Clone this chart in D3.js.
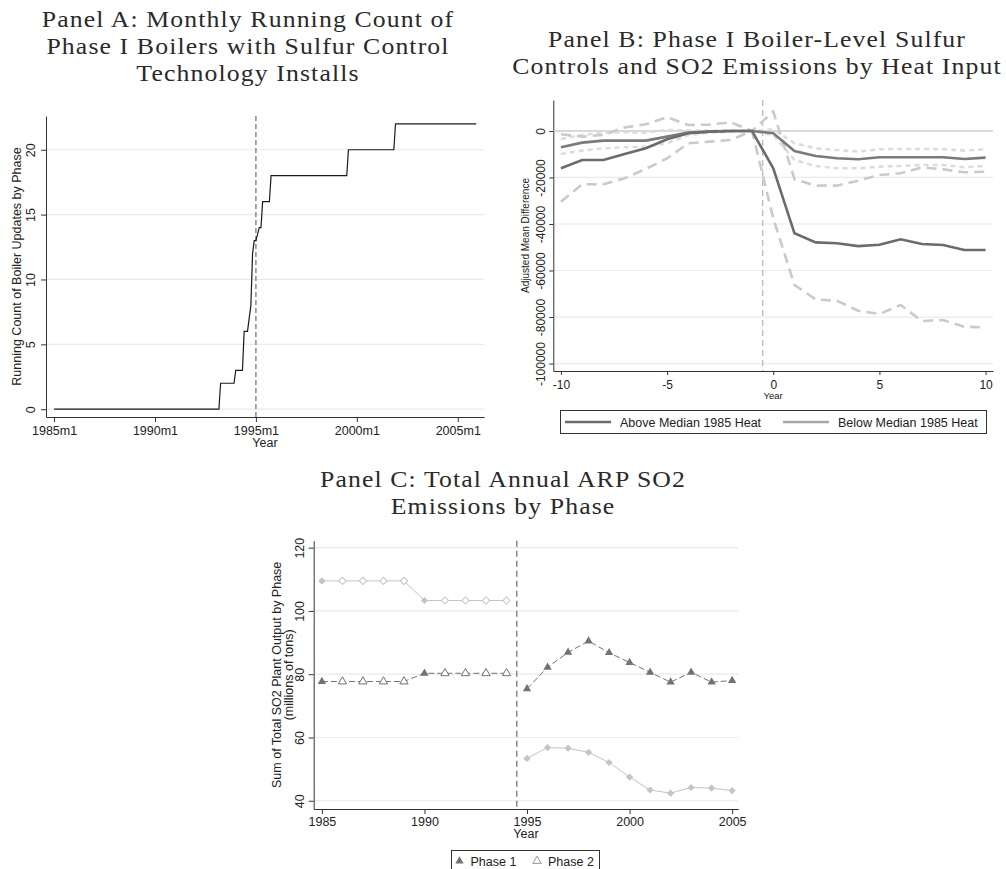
<!DOCTYPE html>
<html>
<head>
<meta charset="utf-8">
<script src="https://cdn.jsdelivr.net/npm/d3@7"></script>
<style>
  body { margin: 0; background: #fff; }
  svg text { font-family: "Liberation Sans", Arial, sans-serif; fill: #222; }
  svg .title { font-family: "Liberation Serif", "Times New Roman", serif; fill: #2a2a2a; }
</style>
</head>
<body>
<script>
// ---- Panel A: running count of boilers (change points, Stata monthly dates)
const boilerMonths = ['1985m1','1993m3','1993m4','1993m12','1994m1','1994m5','1994m6','1994m8','1994m10','1994m11','1994m12','1995m1','1995m3','1995m4','1995m5','1995m9','1995m10','1999m7','1999m8','2001m11','2001m12','2005m12']
const boilerCounts = [0, 0, 2, 2, 3, 3, 6, 6, 8, 12, 13, 13, 14, 14, 16, 16, 18, 18, 20, 20, 22, 22]
const monthTicks = ['1985m1','1990m1','1995m1','2000m1','2005m1']
const countTicks = [0, 5, 10, 15, 20]

// ---- Panel B: event study, years relative to install
const eventYears = [-10,-9,-8,-7,-6,-5,-4,-3,-2,-1,0,1,2,3,4,5,6,7,8,9,10]
const aboveMean = [-16060,-12480,-12480,-9900,-7460,-3590,-1000,-300,0,0,-16060,-44000,-47900,-48300,-49500,-48900,-46600,-48600,-49000,-51200,-51200]
const aboveHi = [-1430,-2440,-1720,1500,2870,5880,2580,2720,3730,0,8320,-20790,-23520,-23520,-21370,-18930,-18210,-15630,-16490,-17780,-17500]
const aboveLo = [-30400,-22940,-22940,-20360,-16350,-11760,-5300,-4590,-3870,0,-37570,-66250,-72400,-73000,-77300,-78700,-74850,-81700,-81300,-84170,-84460]
const belowMean = [-7030,-5020,-4160,-4160,-4160,-2440,-720,-300,0,0,-1000,-8600,-10750,-11760,-12190,-11330,-11330,-11330,-11330,-12050,-11470]
const belowHi = [-3440,-1720,-720,-570,-720,430,140,140,140,0,720,-5300,-7460,-8170,-8890,-7890,-7740,-7740,-7890,-8460,-7890]
const belowLo = [-9890,-8460,-7460,-7030,-6740,-5300,-1720,-720,-290,0,-1720,-12480,-15060,-16060,-16060,-15340,-15060,-14630,-14630,-15630,-15060]
const diffTicks = [0,-20000,-40000,-60000,-80000,-100000]
const eventTicks = [-10,-5,0,5,10]
const legendB = ['Above Median 1985 Heat','Below Median 1985 Heat']

// ---- Panel C: annual ARP SO2 emissions (millions of tons)
const years = [1985,1986,1987,1988,1989,1990,1991,1992,1993,1994,1995,1996,1997,1998,1999,2000,2001,2002,2003,2004,2005]
const phase1 = [77.7,77.7,77.7,77.7,77.7,80.3,80.3,80.3,80.3,80.3,75.4,82.2,86.9,90.5,86.8,83.7,80.6,77.5,80.6,77.5,78.0]
const phase2 = [109.5,109.5,109.5,109.5,109.5,103.3,103.3,103.3,103.3,103.3,53.4,56.8,56.6,55.3,52.1,47.5,43.4,42.4,44.2,44.0,43.2]
const hollowYears = [1986,1987,1988,1989,1991,1992,1993,1994]
const so2Ticks = [40,60,80,100,120]
const yearTicks = [1985,1990,1995,2000,2005]
const legendC = ['Phase 1','Phase 2']

const monthIndex = s => {
  let [y, m] = s.split('m').map(Number)
  return (y - 1960) * 12 + m - 1
}

const width = 1006, height = 869
const gridColor = '#eaeaea'
const axisColor = '#333'

let svg = d3.select('body').append('svg')
.attr('width', width)
.attr('height', height)

svg.append('rect').attr('width', width).attr('height', height).attr('fill', '#fff')

// serif titles, stretched a little to get closer to the wide Computer Modern look
const title = (lines, cx, y0, step) => {
  lines.forEach((t, i) => {
    svg.append('text')
    .attr('class', 'title')
    .attr('transform', `translate(${cx},${y0 + i * step}) scale(1.12,1)`)
    .attr('text-anchor', 'middle')
    .style('font-size', '23px')
    .style('letter-spacing', '1px')
    .text(t)
  })
}

// stata-like axes: rotated y labels, light grid
const drawAxes = (g, x, y, opt) => {
  let [x0, x1] = x.range()
  let [y0, y1] = y.range()

  g.append('g')
  .selectAll('line')
  .data(opt.grid)
  .join('line')
  .attr('x1', x0).attr('x2', x1)
  .attr('y1', d => y(d)).attr('y2', d => y(d))
  .attr('stroke', gridColor)
  .attr('stroke-width', 1.2)

  let ya = g.append('g')
  .attr('transform', `translate(${x0},0)`)
  .call(d3.axisLeft(y).tickValues(opt.yTicks).tickSize(opt.tick).tickSizeOuter(0))
  ya.select('.domain').attr('stroke', axisColor)
  ya.selectAll('.tick line').attr('stroke', axisColor)
  ya.selectAll('.tick text')
  .attr('transform', 'rotate(-90)')
  .attr('x', 0)
  .attr('y', -opt.yLabelOff)
  .attr('dy', 0)
  .attr('text-anchor', 'middle')
  .style('font-size', opt.font + 'px')
  .text(opt.yFormat || (d => d))

  let xa = g.append('g')
  .attr('transform', `translate(0,${y0})`)
  .call(d3.axisBottom(x).tickValues(opt.xTicks).tickSize(opt.tick).tickPadding(opt.xPad).tickSizeOuter(0))
  xa.select('.domain').attr('stroke', axisColor)
  xa.selectAll('.tick line').attr('stroke', axisColor)
  xa.selectAll('.tick text')
  .style('font-size', opt.font + 'px')
  .text(opt.xFormat || (d => d))

  g.append('text')
  .attr('x', (x0 + x1) / 2)
  .attr('y', opt.yearY)
  .attr('text-anchor', 'middle')
  .style('font-size', opt.yearFont + 'px')
  .text('Year')

  opt.yTitle.forEach((t, i) => {
    g.append('text')
    .attr('transform', `translate(${opt.yTitleX + i * opt.yTitleStep},${(y0 + y1) / 2}) rotate(-90)`)
    .attr('text-anchor', 'middle')
    .style('font-size', opt.yTitleFont + 'px')
    .text(t)
  })
}

// ================= Panel A
title(['Panel A: Monthly Running Count of', 'Phase I Boilers with Sulfur Control', 'Technology Installs'], 248, 27, 27)

let xA = d3.scaleLinear().domain([295.2, 555.6]).range([46, 484])
let yA = d3.scaleLinear().domain([-0.6, 22.6]).range([417, 116])
let gA = svg.append('g')

drawAxes(gA, xA, yA, {
  grid: countTicks, yTicks: countTicks, xTicks: monthTicks.map(monthIndex),
  xFormat: d => `${1960 + d / 12}m1`,
  tick: 5, xPad: 4, yLabelOff: 11, font: 12.5,
  yearY: 447, yearFont: 12.5,
  yTitle: ['Running Count of Boiler Updates by Phase'], yTitleX: 21, yTitleStep: 0, yTitleFont: 12.5
})

gA.append('line')
.attr('x1', xA(monthIndex('1995m1'))).attr('x2', xA(monthIndex('1995m1')))
.attr('y1', yA.range()[1]).attr('y2', yA.range()[0])
.attr('stroke', '#777').attr('stroke-width', 1.3).attr('stroke-dasharray', '5,3')

const boilerData = boilerMonths.map((m, i) => ({m: monthIndex(m), v: boilerCounts[i]}))
gA.append('path')
.datum(boilerData)
.attr('fill', 'none')
.attr('stroke', '#1a1a1a')
.attr('stroke-width', 1.2)
.attr('d', d3.line().x(d => xA(d.m)).y(d => yA(d.v)))

// ================= Panel B
title(['Panel B: Phase I Boiler-Level Sulfur', 'Controls and SO2 Emissions by Heat Input'], 757, 47, 27)

let xB = d3.scaleLinear().domain([-10.36, 10.35]).range([553.3, 993])
let yB = d3.scaleLinear().domain([-103200, 13300]).range([371, 100])
let gB = svg.append('g')

drawAxes(gB, xB, yB, {
  grid: diffTicks.filter(d => d !== 0), yTicks: diffTicks, xTicks: eventTicks,
  tick: 4, xPad: 5, yLabelOff: 8, font: 12,
  yearY: 399, yearFont: 9.5,
  yTitle: ['Adjusted Mean Difference'], yTitleX: 529, yTitleStep: 0, yTitleFont: 10
})

gB.append('line')
.attr('x1', xB.range()[0]).attr('x2', xB.range()[1])
.attr('y1', yB(0)).attr('y2', yB(0))
.attr('stroke', '#b4b4b4').attr('stroke-width', 1.1)

gB.append('line')
.attr('x1', xB(-0.5)).attr('x2', xB(-0.5))
.attr('y1', yB.range()[1]).attr('y2', yB.range()[0])
.attr('stroke', '#bdbdbd').attr('stroke-width', 1.4).attr('stroke-dasharray', '6,4')

const lineB = d3.line().x((d, i) => xB(eventYears[i])).y(d => yB(d))

const seriesB = [
  {v: belowHi, color: '#dcdcdc', dash: '5,4'},
  {v: belowLo, color: '#dcdcdc', dash: '5,4'},
  {v: aboveHi, color: '#cacaca', dash: '10,6'},
  {v: aboveLo, color: '#cacaca', dash: '10,6'},
  {v: belowMean, color: '#7a7a7a', dash: null},
  {v: aboveMean, color: '#6b6b6b', dash: null}
]

seriesB.forEach(s => {
  gB.append('path')
  .datum(s.v)
  .attr('fill', 'none')
  .attr('stroke', s.color)
  .attr('stroke-width', 2.6)
  .attr('stroke-dasharray', s.dash)
  .attr('d', lineB)
})

let legB = svg.append('g')
legB.append('rect')
.attr('x', 560.5).attr('y', 410.5).attr('width', 426).attr('height', 23)
.attr('fill', '#fff').attr('stroke', '#333')

const legBColors = ['#6b6b6b', '#a8a8a8']
const legBX = [565, 783]
legendB.forEach((t, i) => {
  legB.append('line')
  .attr('x1', legBX[i]).attr('x2', legBX[i] + 46)
  .attr('y1', 422).attr('y2', 422)
  .attr('stroke', legBColors[i]).attr('stroke-width', 2.6)
  legB.append('text')
  .attr('x', legBX[i] + 55).attr('y', 426.5)
  .style('font-size', '12.5px')
  .text(t)
})

// ================= Panel C
title(['Panel C: Total Annual ARP SO2', 'Emissions by Phase'], 503, 487, 27)

let xC = d3.scaleLinear().domain([1984.6, 2005.3]).range([313.7, 738.3])
let yC = d3.scaleLinear().domain([37.4, 122.2]).range([809, 540.7])
let gC = svg.append('g')

drawAxes(gC, xC, yC, {
  grid: so2Ticks, yTicks: so2Ticks, xTicks: yearTicks,
  tick: 5, xPad: 3, yLabelOff: 10, font: 12.5,
  yearY: 838, yearFont: 12.5,
  yTitle: ['Sum of Total SO2 Plant Output by Phase', '(millions of tons)'], yTitleX: 281, yTitleStep: 12, yTitleFont: 12.5
})

gC.append('line')
.attr('x1', xC(1994.5)).attr('x2', xC(1994.5))
.attr('y1', yC.range()[1]).attr('y2', yC.range()[0])
.attr('stroke', '#888').attr('stroke-width', 1.5).attr('stroke-dasharray', '6,4')

const lineC = d3.line().x(d => xC(d.year)).y(d => yC(d.v))
const c1 = '#727272', c2 = '#c4c4c4'

const phaseSeries = [
  {v: phase2, color: c2, dash: null, shape: 'diamond'},
  {v: phase1, color: c1, dash: '6,3', shape: 'triangle'}
]

const triangle = d3.symbol().type(d3.symbolTriangle).size(30)
const diamond = d3.symbol().type(d3.symbolSquare).size(26)

phaseSeries.forEach(s => {
  let pts = years.map((y, i) => ({year: y, v: s.v[i]}))
  let pre = pts.filter(d => d.year < 1994.5)
  let post = pts.filter(d => d.year > 1994.5)
  ;[pre, post].forEach(seg => {
    gC.append('path')
    .datum(seg)
    .attr('fill', 'none')
    .attr('stroke', s.color)
    .attr('stroke-width', 1)
    .attr('stroke-dasharray', s.dash)
    .attr('d', lineC)
  })
  gC.append('g')
  .selectAll('path')
  .data(pts)
  .join('path')
  .attr('transform', d => `translate(${xC(d.year)},${yC(d.v)})` + (s.shape === 'diamond' ? ' rotate(45)' : ''))
  .attr('d', s.shape === 'diamond' ? diamond : triangle)
  .attr('fill', d => hollowYears.includes(d.year) ? '#fff' : s.color)
  .attr('stroke', s.color)
  .attr('stroke-width', d => hollowYears.includes(d.year) ? 1 : 0)
})

let legC = svg.append('g')
legC.append('rect')
.attr('x', 451.5).attr('y', 850.5).attr('width', 148).attr('height', 24)
.attr('fill', '#fff').attr('stroke', '#333')

const legCX = [459.5, 537]
legendC.forEach((t, i) => {
  legC.append('path')
  .attr('transform', `translate(${legCX[i]},861)`)
  .attr('d', triangle)
  .attr('fill', i === 0 ? c1 : '#fff')
  .attr('stroke', i === 0 ? 'none' : '#999')
  legC.append('text')
  .attr('x', legCX[i] + 11).attr('y', 866)
  .style('font-size', '12.5px')
  .text(t)
})
</script>
</body>
</html>
